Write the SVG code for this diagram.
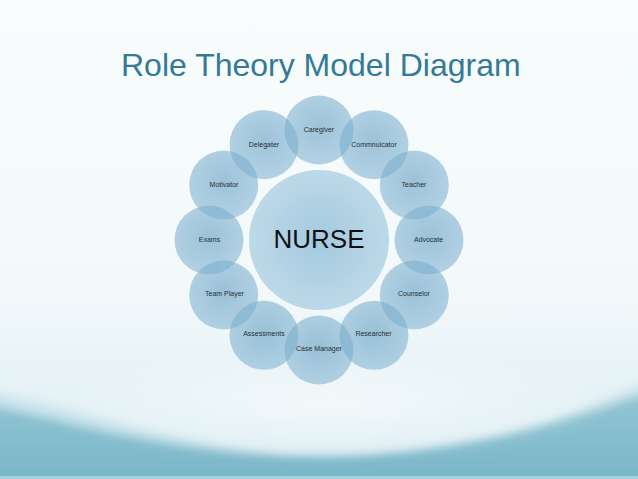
<svg xmlns="http://www.w3.org/2000/svg" width="638" height="479" viewBox="0 0 638 479">
<defs>
<linearGradient id="bg" x1="0" y1="0" x2="0" y2="1">
<stop offset="0" stop-color="#f8fcfd"/>
<stop offset="0.6" stop-color="#f3f9fb"/>
<stop offset="1" stop-color="#d9ecf2"/>
</linearGradient>
<linearGradient id="wave1" x1="0" y1="0" x2="0" y2="1">
<stop offset="0" stop-color="#d3e9f0"/>
<stop offset="1" stop-color="#acd4df"/>
</linearGradient>
<linearGradient id="wave2" x1="0" y1="0" x2="0" y2="1">
<stop offset="0" stop-color="#94c6d4"/>
<stop offset="1" stop-color="#72b2c5"/>
</linearGradient>
<radialGradient id="light" cx="0.5" cy="0.5" r="0.5">
<stop offset="0" stop-color="#ffffff" stop-opacity="0.8"/>
<stop offset="1" stop-color="#ffffff" stop-opacity="0"/>
</radialGradient>
<radialGradient id="orb" cx="0.5" cy="0.45" r="0.55">
<stop offset="0" stop-color="#6aa2c4" stop-opacity="0.64"/>
<stop offset="1" stop-color="#7aafce" stop-opacity="0.54"/>
</radialGradient>
<radialGradient id="core" cx="0.5" cy="0.5" r="0.5">
<stop offset="0" stop-color="#a3c9df"/>
<stop offset="1" stop-color="#bdd9e8"/>
</radialGradient>
<filter id="soft" x="-10%" y="-20%" width="120%" height="140%">
<feGaussianBlur stdDeviation="5"/>
</filter>
<style>
.orb{fill:url(#orb);}
.lbl{font-family:"Liberation Sans",Arial,sans-serif;font-size:7px;fill:#2a2f33;text-anchor:middle;}
.title{font-family:"Liberation Sans",Arial,sans-serif;font-size:32px;fill:#347a97;}
.core{font-family:"Liberation Sans",Arial,sans-serif;font-size:26px;fill:#111;text-anchor:middle;}
</style>
</defs>
<rect x="0" y="0" width="638" height="479" fill="url(#bg)"/>
<g filter="url(#soft)">
<path d="M-20,388 C120,420 250,468 400,458 C500,450 580,408 660,376 L660,500 L-20,500 Z" fill="url(#wave1)"/>
<path d="M-20,402 C100,430 200,458 330,456 C450,454 560,424 660,388 L660,500 L-20,500 Z" fill="url(#wave2)"/>
<ellipse cx="330" cy="405" rx="290" ry="55" fill="url(#light)" opacity="0.7"/>
</g>
<rect x="0" y="476" width="638" height="3" fill="#a3d3de"/>
<text class="title" x="121" y="76">Role Theory Model Diagram</text>
<g id="nurse"><circle cx="319" cy="240" r="70" fill="url(#core)"/><text class="core" x="319" y="248">NURSE</text></g>
<g id="caregiver"><circle class="orb" cx="319" cy="130" r="34.5"/><text class="lbl" x="319" y="132">Caregiver</text></g>
<g id="commnuicator"><circle class="orb" cx="374" cy="144.7" r="34.5"/><text class="lbl" x="374" y="147">Commnuicator</text></g>
<g id="teacher"><circle class="orb" cx="414.3" cy="185" r="34.5"/><text class="lbl" x="414" y="187">Teacher</text></g>
<g id="advocate"><circle class="orb" cx="429" cy="240" r="34.5"/><text class="lbl" x="428.5" y="242">Advocate</text></g>
<g id="counselor"><circle class="orb" cx="414.3" cy="295" r="34.5"/><text class="lbl" x="414" y="296">Counselor</text></g>
<g id="researcher"><circle class="orb" cx="374" cy="335.3" r="34.5"/><text class="lbl" x="373.5" y="336">Researcher</text></g>
<g id="case-manager"><circle class="orb" cx="319" cy="350" r="34.5"/><text class="lbl" x="319" y="351">Case Manager</text></g>
<g id="assessments"><circle class="orb" cx="264" cy="335.3" r="34.5"/><text class="lbl" x="264" y="336">Assessments</text></g>
<g id="team-player"><circle class="orb" cx="223.7" cy="295" r="34.5"/><text class="lbl" x="224.5" y="296">Team Player</text></g>
<g id="exams"><circle class="orb" cx="209" cy="240" r="34.5"/><text class="lbl" x="209.5" y="242">Exams</text></g>
<g id="motivator"><circle class="orb" cx="223.7" cy="185" r="34.5"/><text class="lbl" x="224" y="187">Motivator</text></g>
<g id="delegater"><circle class="orb" cx="264" cy="144.7" r="34.5"/><text class="lbl" x="264" y="147">Delegater</text></g>
<g id="connectors"></g>
</svg>
